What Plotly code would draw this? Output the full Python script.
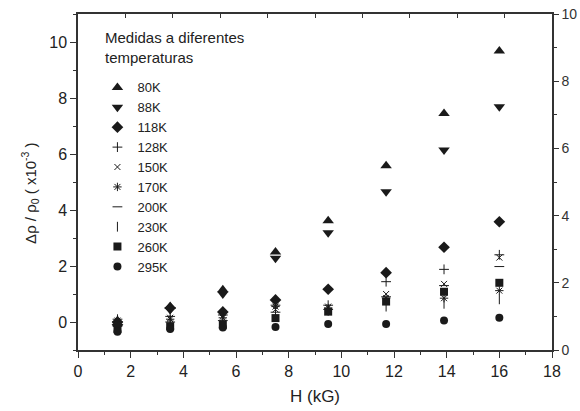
import plotly.graph_objects as go

H = [1.5, 3.5, 5.5, 7.5, 9.5, 11.7, 13.9, 16.0]
labels = ["80K", "88K", "118K", "128K", "150K", "170K", "200K", "230K", "260K", "295K"]
v80 = [0.05, 0.55, 1.15, 2.50, 3.62, 5.58, 7.45, 9.68]
v88 = [-0.05, 0.45, 1.00, 2.28, 3.19, 4.65, 6.14, 7.69]
v118 = [-0.10, 0.50, 0.36, 0.79, 1.17, 1.76, 2.67, 3.58]
v128 = [0.10, 0.20, 0.25, 0.60, 0.60, 1.44, 1.88, 2.40]
v150 = [0.00, 0.15, 0.20, 0.45, 0.55, 1.00, 1.36, 2.30]
v170 = [0.05, 0.10, 0.15, 0.55, 0.50, 0.85, 0.85, 1.12]
v200 = [-0.15, 0.00, 0.05, 0.35, 0.45, 0.90, 1.30, 1.98]
v230 = [-0.20, -0.10, -0.05, 0.25, 0.40, 0.55, 0.65, 0.81]
v260 = [-0.25, -0.15, -0.10, 0.14, 0.37, 0.73, 1.08, 1.40]
v295 = [-0.35, -0.25, -0.20, -0.18, -0.07, -0.07, 0.05, 0.15]
series = [v80, v88, v118, v128, v150, v170, v200, v230, v260, v295]

x_ticks = [0, 2, 4, 6, 8, 10, 12, 14, 16, 18]
y_ticks = [0, 2, 4, 6, 8, 10]
y2_ticks = [0, 2, 4, 6, 8, 10]

C = "#1a1a1a"
styles = [
    ("triangle-up", 10, False),
    ("triangle-down", 10, False),
    ("diamond", 9, False),
    ("cross-thin", 7, True),
    ("x-thin", 6, True),
    ("asterisk", 7, True),
    ("line-ew", 7, True),
    ("line-ns", 7, True),
    ("square", 8, False),
    ("circle", 8, False),
]

fig = go.Figure()
for name, vals, (sym, size, thin) in zip(labels, series, styles):
    marker = dict(symbol=sym, size=size, color=C)
    if thin:
        marker["line"] = dict(color=C, width=1)
    else:
        marker["line"] = dict(width=0)
    fig.add_trace(go.Scatter(x=H, y=vals, mode="markers", name=name, marker=marker))

# dummy trace to activate secondary axes
fig.add_trace(go.Scatter(x=[0], y=[0], xaxis="x2", yaxis="y2", mode="markers",
                         marker=dict(opacity=0), showlegend=False, hoverinfo="skip"))

font = "Liberation Sans, Arial, sans-serif"
axcol = "#333333"
fig.update_layout(
    width=580, height=411,
    margin=dict(l=78, r=28, t=14, b=61),
    paper_bgcolor="white", plot_bgcolor="white",
    font=dict(family=font, color="#222222", size=15),
    showlegend=True,
    legend=dict(x=0.041, y=0.826, xanchor="left", yanchor="top",
                font=dict(size=13, family=font, color="#222222"),
                bgcolor="rgba(0,0,0,0)", tracegroupgap=0),
    xaxis=dict(range=[0, 18], tickvals=x_ticks, ticktext=[str(t) for t in x_ticks],
               ticks="outside", ticklen=6, tickwidth=1.2, tickcolor=axcol,
               minor=dict(dtick=1, ticks="outside", ticklen=3, tickcolor=axcol, tickwidth=1.2),
               showline=True, linecolor=axcol, linewidth=1.5, showgrid=False, zeroline=False,
               tickfont=dict(size=16), automargin=False,
               title=dict(text="H (kG)", font=dict(size=17), standoff=11)),
    yaxis=dict(range=[-1, 11], tickvals=y_ticks, ticktext=[str(t) for t in y_ticks],
               ticks="outside", ticklen=6, tickwidth=1.2, tickcolor=axcol,
               minor=dict(dtick=1, tick0=1, ticks="outside", ticklen=3, tickcolor=axcol, tickwidth=1.2),
               showline=True, linecolor=axcol, linewidth=1.5, showgrid=False, zeroline=False,
               tickfont=dict(size=16), automargin=False),
    xaxis2=dict(range=[0, 10], overlaying="x", side="top", dtick=1, ticks="inside",
                ticklen=4, tickcolor=axcol, showticklabels=False, showline=True,
                linecolor=axcol, linewidth=1.5, showgrid=False, zeroline=False, automargin=False),
    yaxis2=dict(range=[0, 10], overlaying="y", side="right", anchor="x",
                tickvals=y2_ticks, ticktext=[str(t) for t in y2_ticks],
                ticks="outside", ticklen=5, tickwidth=1.2, tickcolor=axcol,
                minor=dict(dtick=1, tick0=1, ticks="outside", ticklen=3, tickcolor=axcol, tickwidth=1.2),
                showline=True, linecolor=axcol, linewidth=1.5, showgrid=False, zeroline=False,
                tickfont=dict(size=14, color="#333333"), automargin=False),
    annotations=[
        dict(text="Medidas a diferentes<br>temperaturas", xref="paper", yref="paper",
             x=0.052, y=0.962, xanchor="left", yanchor="top", showarrow=False, align="left",
             font=dict(size=15, family=font, color="#222222")),
        dict(text="Δρ / ρ<sub>0</sub> ( x10<sup>-3</sup> )", xref="paper", yref="paper",
             x=-0.101, y=0.465, xanchor="center", yanchor="middle", textangle=-90,
             showarrow=False, font=dict(size=15, family=font, color="#222222")),
    ],
)

fig.write_html("out.html", config={"displayModeBar": False},
               post_script="document.body.style.margin='0px';")
